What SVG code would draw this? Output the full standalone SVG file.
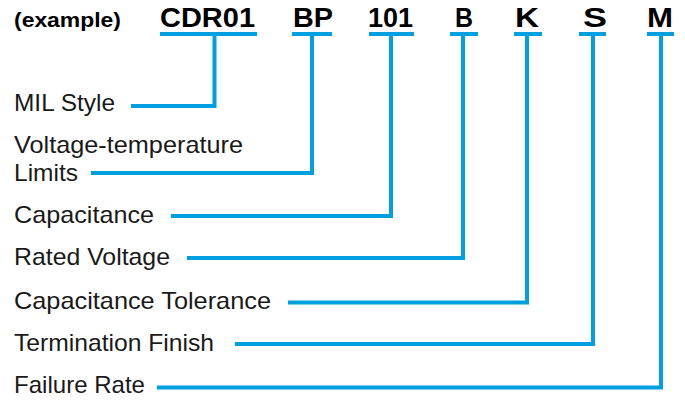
<svg xmlns="http://www.w3.org/2000/svg" width="685" height="400" viewBox="0 0 685 400">
<style>
.code{font-family:"Liberation Sans",Arial,sans-serif;font-weight:bold;font-size:27px;fill:#000}
.ex{font-family:"Liberation Sans",Arial,sans-serif;font-weight:bold;font-size:21px;fill:#000}
.lbl{font-family:"Liberation Sans",Arial,sans-serif;font-size:24px;fill:#1a1a1a}
.ln{fill:none;stroke:#009fdf;stroke-width:4;stroke-linejoin:miter;stroke-linecap:butt}
</style>
<rect width="685" height="400" fill="#fff"/>
<g id="header">
<text class="ex" x="14" y="27" textLength="107" lengthAdjust="spacingAndGlyphs">(example)</text>
</g>
<g id="code-CDR01"><text class="code" x="160" y="26.5" textLength="95" lengthAdjust="spacingAndGlyphs">CDR01</text></g>
<g id="code-BP"><text class="code" x="293" y="26.5" textLength="40" lengthAdjust="spacingAndGlyphs">BP</text></g>
<g id="code-101"><text class="code" x="368" y="26.5" textLength="45" lengthAdjust="spacingAndGlyphs">101</text></g>
<g id="code-B"><text class="code" x="455" y="26.5" textLength="18" lengthAdjust="spacingAndGlyphs">B</text></g>
<g id="code-K"><text class="code" x="515" y="26.5" textLength="24" lengthAdjust="spacingAndGlyphs">K</text></g>
<g id="code-S"><text class="code" x="583" y="26.5" textLength="24" lengthAdjust="spacingAndGlyphs">S</text></g>
<g id="code-M"><text class="code" x="647" y="26.5" textLength="26" lengthAdjust="spacingAndGlyphs">M</text></g>

<g id="label-mil"><text class="lbl" x="14" y="111" textLength="101" lengthAdjust="spacingAndGlyphs">MIL Style</text></g>
<g id="label-vt">
<text class="lbl" x="14" y="153" textLength="229" lengthAdjust="spacingAndGlyphs">Voltage-temperature</text>
<text class="lbl" x="14" y="181" textLength="64" lengthAdjust="spacingAndGlyphs">Limits</text>
</g>
<g id="label-cap"><text class="lbl" x="14" y="223" textLength="140" lengthAdjust="spacingAndGlyphs">Capacitance</text></g>
<g id="label-rv"><text class="lbl" x="14" y="265" textLength="156" lengthAdjust="spacingAndGlyphs">Rated Voltage</text></g>
<g id="label-ct"><text class="lbl" x="14" y="309" textLength="257" lengthAdjust="spacingAndGlyphs">Capacitance Tolerance</text></g>
<g id="label-tf"><text class="lbl" x="14" y="351" textLength="200" lengthAdjust="spacingAndGlyphs">Termination Finish</text></g>
<g id="label-fr"><text class="lbl" x="14" y="393" textLength="131" lengthAdjust="spacingAndGlyphs">Failure Rate</text></g>

<g id="connectors">
<line class="ln" x1="160" y1="34" x2="257" y2="34"/>
<path class="ln" d="M214.5 34 V106 H131"/>
<line class="ln" x1="292" y1="34" x2="332" y2="34"/>
<path class="ln" d="M312 34 V173 H91"/>
<line class="ln" x1="369" y1="34" x2="414" y2="34"/>
<path class="ln" d="M391 34 V216 H171"/>
<line class="ln" x1="450" y1="34" x2="478" y2="34"/>
<path class="ln" d="M463 34 V258 H187"/>
<line class="ln" x1="514" y1="34" x2="542" y2="34"/>
<path class="ln" d="M527 34 V302.5 H288"/>
<line class="ln" x1="579" y1="34" x2="606" y2="34"/>
<path class="ln" d="M593 34 V344 H235"/>
<line class="ln" x1="647" y1="34" x2="674" y2="34"/>
<path class="ln" d="M661 34 V387.5 H157"/>
</g>
</svg>
